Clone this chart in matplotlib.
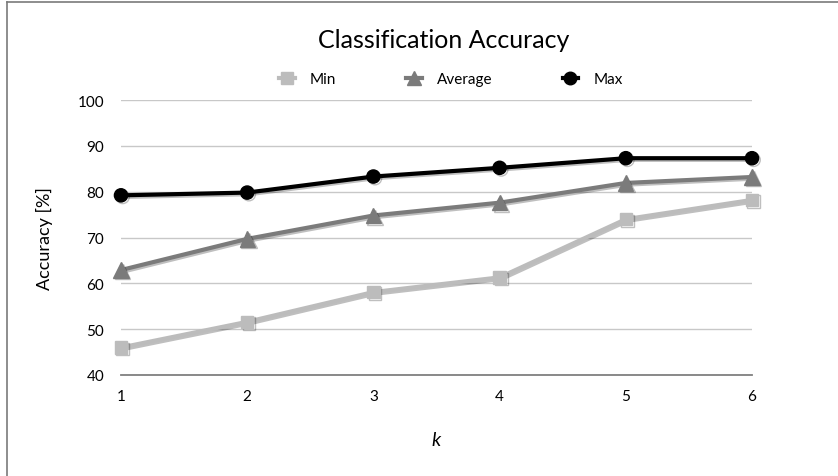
import matplotlib
matplotlib.use("Agg")
import matplotlib.pyplot as plt
import matplotlib.patheffects as pe
from matplotlib.lines import Line2D

k = [1, 2, 3, 4, 5, 6]
acc_min = [46.0, 51.6, 58.1, 61.3, 74.0, 78.2]
acc_avg = [62.9, 69.7, 74.8, 77.6, 81.9, 83.2]
acc_max = [79.2, 79.8, 83.3, 85.2, 87.3, 87.3]
yticks = [40, 50, 60, 70, 80, 90, 100]
xticklabels = ["1", "2", "3", "4", "5", "6"]

plt.rcParams['font.family'] = ['Lato', 'DejaVu Sans']

fig = plt.figure(figsize=(8.38, 4.77), dpi=100)
ax = fig.add_axes([121/838, 1-376/477, (752-121)/838, (376-101)/477])

shadow = [pe.SimpleLineShadow(offset=(1.2, -1.2), alpha=0.25, shadow_color='black'), pe.Normal()]

series = [
    (acc_min, '#bcbcbc', 's', 9, 'Min'),
    (acc_avg, '#7b7b7b', '^', 11, 'Average'),
    (acc_max, '#000000', 'o', 9.5, 'Max'),
]
for vals, col, mk, ms, lab in series:
    ax.plot(k, vals, color=col, lw=3.0, marker=mk, ms=ms, mec=col, mfc=col,
            path_effects=shadow, label=lab, solid_joinstyle='round', zorder=3,
            clip_on=False)

ax.set_xlim(1, 6)
ax.set_ylim(40, 100)
ax.set_yticks(yticks)
ax.set_xticks(k)
ax.set_xticklabels(xticklabels)
ax.grid(axis='y', color='#c8c8c8', lw=1.0)
ax.set_axisbelow(True)
for s in ['top', 'right', 'left']:
    ax.spines[s].set_visible(False)
ax.spines['bottom'].set_color('#808080')
ax.spines['bottom'].set_linewidth(1.3)
ax.tick_params(axis='both', length=0, labelsize=11, colors='black')
ax.tick_params(axis='y', pad=12)
ax.tick_params(axis='x', pad=10)

ax.set_ylabel('Accuracy [%]', fontsize=13, labelpad=18)
ax.set_xlabel('k', fontsize=14, fontstyle='italic', labelpad=20)

fig.text(444/838, 1 - 40/477, 'Classification Accuracy', ha='center', va='center', fontsize=18)

handles = [Line2D([0], [0], color=c, lw=3.0, marker=m, ms=ms*0.95, mec=c, mfc=c) for _, c, m, ms, _ in series]
fig.legend(handles, [s[4] for s in series], loc='center', bbox_to_anchor=(451/838, 1 - 80/477), ncol=3,
           frameon=False, fontsize=11, handlelength=1.0, columnspacing=4.6, handletextpad=1.0)

# partial frame
fig.add_artist(Line2D([7/838, 7/838], [0, 1 - 3/477], color='#7a7a7a', lw=1.2, transform=fig.transFigure))
fig.add_artist(Line2D([7/838, 1], [1 - 3/477, 1 - 3/477], color='#7a7a7a', lw=1.2, transform=fig.transFigure))

fig.savefig('out.png', dpi=100)
